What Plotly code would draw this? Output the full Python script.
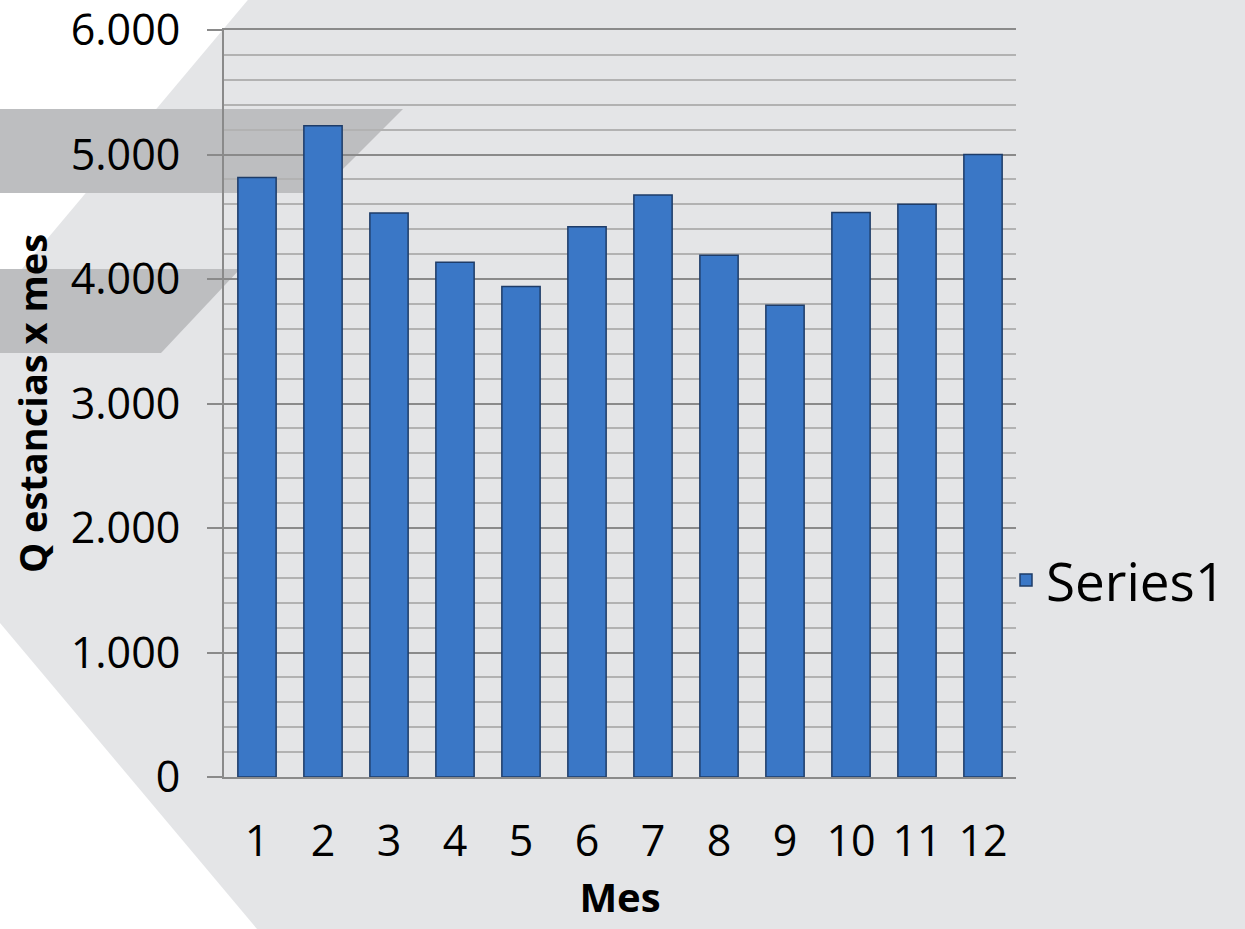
import plotly.graph_objects as go

# ---- data ----
months = ["1", "2", "3", "4", "5", "6", "7", "8", "9", "10", "11", "12"]
stays = [4815, 5230, 4530, 4135, 3940, 4420, 4675, 4190, 3790, 4535, 4600, 5000]
series_name = "Series1"
y_title = "Q estancias x mes"
x_title = "Mes"

W, H = 1245, 929
L, R, T, B = 224, 229, 30, 152
pw, ph = W - L - R, H - T - B


def px(x):
    return (x - L) / pw


def py(y):
    return (H - B - y) / ph


def poly(pts):
    return "M " + " L ".join(f"{px(a):.4f},{py(b):.4f}" for a, b in pts) + " Z"


bg = "#E4E5E7"
band = "#BDBEC0"
shapes = [
    dict(type="path", xref="paper", yref="paper", layer="below",
         path=poly([(-5, -5), (252, -5), (-5, 301)]), fillcolor="white", line_width=0),
    dict(type="path", xref="paper", yref="paper", layer="below",
         path=poly([(-5, 617), (262, 935), (-5, 935)]), fillcolor="white", line_width=0),
    dict(type="path", xref="paper", yref="paper", layer="below",
         path=poly([(-5, 109), (403, 109), (319, 193), (-5, 193)]), fillcolor=band, line_width=0),
    dict(type="path", xref="paper", yref="paper", layer="below",
         path=poly([(-5, 269), (240, 269), (161, 353), (-5, 353)]), fillcolor=band, line_width=0),
]

fig = go.Figure()
fig.add_trace(go.Bar(
    x=months, y=stays, name=series_name,
    marker=dict(color="#3A77C6", line=dict(color="#1E3C68", width=1.5)),
    showlegend=True,
))

font_family = "Open Sans, Lato, sans-serif"
fig.update_layout(
    width=W, height=H,
    margin=dict(l=L, r=R, t=T, b=B, autoexpand=False),
    paper_bgcolor=bg, plot_bgcolor="rgba(0,0,0,0)",
    separators=",.",
    bargap=0.42,
    shapes=shapes,
    font=dict(family=font_family, color="black", size=43),
    showlegend=True,
    legend=dict(x=px(1006), xanchor="left", y=py(580), yanchor="middle",
                bgcolor="rgba(0,0,0,0)", font=dict(size=53, family=font_family),
                itemwidth=30),
    xaxis=dict(
        type="category", showgrid=False, zeroline=False,
        showline=True, linecolor="#8A8A8A", linewidth=2, mirror=True,
        ticks="", ticklabelstandoff=25,
        tickfont=dict(size=43, family=font_family),
        title=dict(text=x_title, font=dict(size=40, family=font_family, weight="bold"), standoff=4),
    ),
    yaxis=dict(
        range=[0, 6000], tickvals=[0, 1000, 2000, 3000, 4000, 5000, 6000], tickformat=",d",
        showgrid=True, gridcolor="#8A8A8A", gridwidth=2,
        zeroline=False, showline=True, linecolor="#8A8A8A", linewidth=2,
        ticks="outside", ticklen=15, tickwidth=2, tickcolor="#8A8A8A",
        ticklabelstandoff=18, ticklabeloverflow="allow",
        tickfont=dict(size=43, family=font_family),
        minor=dict(dtick=200, showgrid=True, gridcolor="#B2B2B2", gridwidth=2, ticks=""),
        title=dict(text=y_title, font=dict(size=38, family=font_family, weight="bold"), standoff=11),
    ),
)

fig.write_html("out.html", config={"displayModeBar": False},
               post_script="document.body.style.margin='0';document.body.style.overflow='hidden';")
